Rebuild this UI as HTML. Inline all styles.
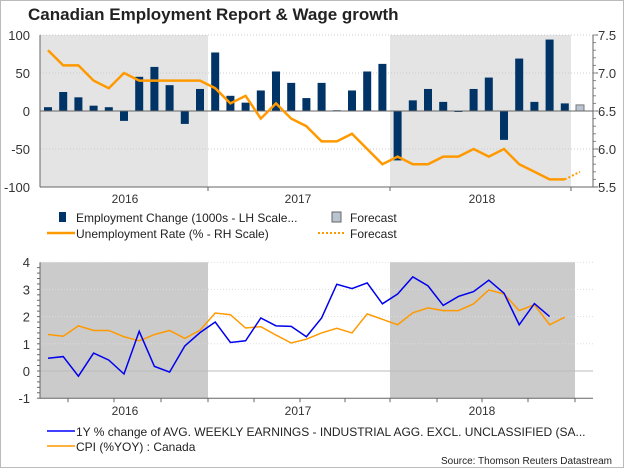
<!DOCTYPE html>
<html><head><meta charset="utf-8"><style>
body{margin:0;background:#fff;font-family:"Liberation Sans",Arial,sans-serif}
svg text{font-family:"Liberation Sans",Arial,sans-serif}
</style></head><body>
<svg id="c" width="624" height="468" xmlns="http://www.w3.org/2000/svg">
<rect x="0.5" y="0.5" width="623" height="467" fill="#fff" stroke="#bbb"/>
<text x="28" y="20" font-size="17" font-weight="bold" fill="#222">Canadian Employment Report &amp; Wage growth</text>
<g id="topChart"></g><g id="botChart"></g>
<g font-size="12" fill="#222">
<rect x="59" y="212" width="7" height="10" fill="#003366"/>
<text x="76" y="222">Employment Change (1000s - LH Scale...</text>
<rect x="332" y="212" width="9" height="10" fill="#b8c4d0" stroke="#666"/>
<text x="350" y="222">Forecast</text>
<line x1="47" y1="233" x2="75" y2="233" stroke="#f90" stroke-width="2.5"/>
<text x="76" y="238">Unemployment Rate (% - RH Scale)</text>
<line x1="318" y1="233" x2="346" y2="233" stroke="#f90" stroke-width="2" stroke-dasharray="2,2"/>
<text x="350" y="238">Forecast</text>
</g>
<g font-size="12" fill="#222">
<line x1="47" y1="431" x2="75" y2="431" stroke="#00f" stroke-width="1.5"/>
<text x="76" y="436">1Y % change of AVG. WEEKLY EARNINGS - INDUSTRIAL AGG. EXCL. UNCLASSIFIED (SA...</text>
<line x1="47" y1="446" x2="75" y2="446" stroke="#f90" stroke-width="1.5"/>
<text x="76" y="451">CPI (%YOY) : Canada</text>
</g>
<text x="612" y="464" font-size="10" text-anchor="end" fill="#222">Source: Thomson Reuters Datastream</text>
</svg>
<script>
const empChange=[5,25,18,7,5,-13,45,58,34,-17,29,77,20,11,27,52,37,17,37,1,27,52,62,-65,14,29,12,0,29,44,-38,69,12,94,10];
const empForecast=8;
const unempRate=[7.3,7.1,7.1,6.9,6.8,7.0,6.9,6.9,6.9,6.9,6.9,6.8,6.6,6.7,6.4,6.6,6.4,6.3,6.1,6.1,6.2,6.0,5.8,5.9,5.8,5.8,5.9,5.9,6.0,5.9,6.0,5.8,5.7,5.6,5.6];
const unempForecast=5.7;
const earnings=[0.47,0.53,-0.19,0.66,0.4,-0.11,1.46,0.17,-0.04,0.92,1.41,1.8,1.05,1.11,1.95,1.66,1.64,1.26,1.95,3.19,3.03,3.24,2.47,2.83,3.46,3.13,2.41,2.74,2.92,3.34,2.86,1.7,2.48,2.0];
const cpi=[1.34,1.28,1.66,1.49,1.49,1.26,1.11,1.34,1.49,1.2,1.5,2.13,2.07,1.58,1.63,1.32,1.03,1.17,1.4,1.57,1.4,2.1,1.9,1.7,2.14,2.32,2.22,2.22,2.47,2.98,2.83,2.22,2.44,1.7,1.98];
const leftTicksTop=[100,50,0,-50,-100];
const rightTicksTop=[7.5,7.0,6.5,6.0,5.5];
const ticksBot=[4,3,2,1,0,-1];
const years=["2016","2017","2018"];
const NS="http://www.w3.org/2000/svg";
function mk(p,t,a){const e=document.createElementNS(NS,t);for(const k in a)e.setAttribute(k,a[k]);p.appendChild(e);return e;}
const X=i=>48+i*15.2;
const yL=v=>111-v*0.76;
const yR=v=>187-(v-5.5)*76;
const yB=v=>371-v*27.2;
const topG=document.getElementById('topChart'), botG=document.getElementById('botChart');
let g=mk(topG,'rect',{x:40,y:35,width:168,height:152,fill:'#e4e4e4'});


g=mk(topG,'rect',{x:390,y:35,width:181,height:152,fill:'#e4e4e4'});


leftTicksTop.forEach(v=>{
 if(v!==0&&v!==-100)mk(topG,'line',{x1:40,x2:593,y1:yL(v),y2:yL(v),stroke:'#ccc','stroke-dasharray':'1,2'});
 const t=mk(topG,'text',{x:30,y:yL(v)+5,'font-size':13,'text-anchor':'end',fill:'#333'});t.textContent=v;
 
 
});
rightTicksTop.forEach(v=>{
 const t=mk(topG,'text',{x:598,y:yR(v)+5,'font-size':13,fill:'#333'});t.textContent=v.toFixed(1);
 
 
 mk(topG,'line',{x1:593,x2:598,y1:yR(v),y2:yR(v),stroke:'#666'});
});
for(let v=5.6;v<7.5;v+=0.1)mk(topG,'line',{x1:593,x2:596,y1:yR(v),y2:yR(v),stroke:'#888'});
empChange.forEach((v,i)=>{
 const b=mk(topG,'rect',{x:X(i)-4,y:Math.min(yL(v),111),width:8,height:Math.max(Math.abs(yL(v)-111),1),fill:'#003366'});
 
 
});
g=mk(topG,'rect',{x:X(35)-4,y:yL(empForecast),width:8,height:111-yL(empForecast),fill:'#b8c4d0',stroke:'#777'});


mk(topG,'line',{x1:40,x2:593,y1:111,y2:111,stroke:'#666'});
g=mk(topG,'polyline',{points:unempRate.map((v,i)=>X(i)+','+yR(v)).join(' '),fill:'none',stroke:'#f90','stroke-width':2.5});


g=mk(topG,'line',{x1:X(34),y1:yR(unempRate[34]),x2:X(35),y2:yR(unempForecast),stroke:'#f90','stroke-width':2,'stroke-dasharray':'2,2'});


mk(topG,'line',{x1:40,x2:40,y1:35,y2:187,stroke:'#666'});
mk(topG,'line',{x1:593,x2:593,y1:35,y2:187,stroke:'#666'});
mk(topG,'line',{x1:40,x2:593,y1:187,y2:187,stroke:'#666'});
[208,390,571].forEach(x=>mk(topG,'line',{x1:x,x2:x,y1:187,y2:191,stroke:'#666'}));
[125,298,482].forEach((x,k)=>{const t=mk(topG,'text',{x:x,y:203,'font-size':12,'text-anchor':'middle',fill:'#333'});t.textContent=years[k];
 
 });
g=mk(botG,'rect',{x:40,y:yB(4),width:168,height:yB(-1)-yB(4),fill:'#cbcbcb'});


g=mk(botG,'rect',{x:390,y:yB(4),width:185,height:yB(-1)-yB(4),fill:'#cbcbcb'});


ticksBot.forEach(v=>{
 if(v>0)mk(botG,'line',{x1:40,x2:593,y1:yB(v),y2:yB(v),stroke:'#ddd','stroke-dasharray':'1,2'});
 const t=mk(botG,'text',{x:30,y:yB(v)+5,'font-size':13,'text-anchor':'end',fill:'#333'});t.textContent=v;
 
 
});
for(let v=-1;v<=4;v+=0.2)mk(botG,'line',{x1:37,x2:40,y1:yB(v),y2:yB(v),stroke:'#666'});
mk(botG,'line',{x1:40,x2:593,y1:yB(0),y2:yB(0),stroke:'#bbb'});
g=mk(botG,'polyline',{points:cpi.map((v,i)=>X(i)+','+yB(v)).join(' '),fill:'none',stroke:'#f90','stroke-width':1.5});


g=mk(botG,'polyline',{points:earnings.map((v,i)=>X(i)+','+yB(v)).join(' '),fill:'none',stroke:'#0000ee','stroke-width':1.5});


mk(botG,'line',{x1:40,x2:40,y1:yB(4),y2:yB(-1),stroke:'#666'});
mk(botG,'line',{x1:40,x2:593,y1:yB(-1),y2:yB(-1),stroke:'#666'});
[68,114,161,208,254,300,345,390,437,482,528,575].forEach(x=>mk(botG,'line',{x1:x,x2:x,y1:yB(-1),y2:yB(-1)+4,stroke:'#666'}));
[125,298,482].forEach((x,k)=>{const t=mk(botG,'text',{x:x,y:415,'font-size':12,'text-anchor':'middle',fill:'#333'});t.textContent=years[k];
 
 });
</script>
</body></html>
